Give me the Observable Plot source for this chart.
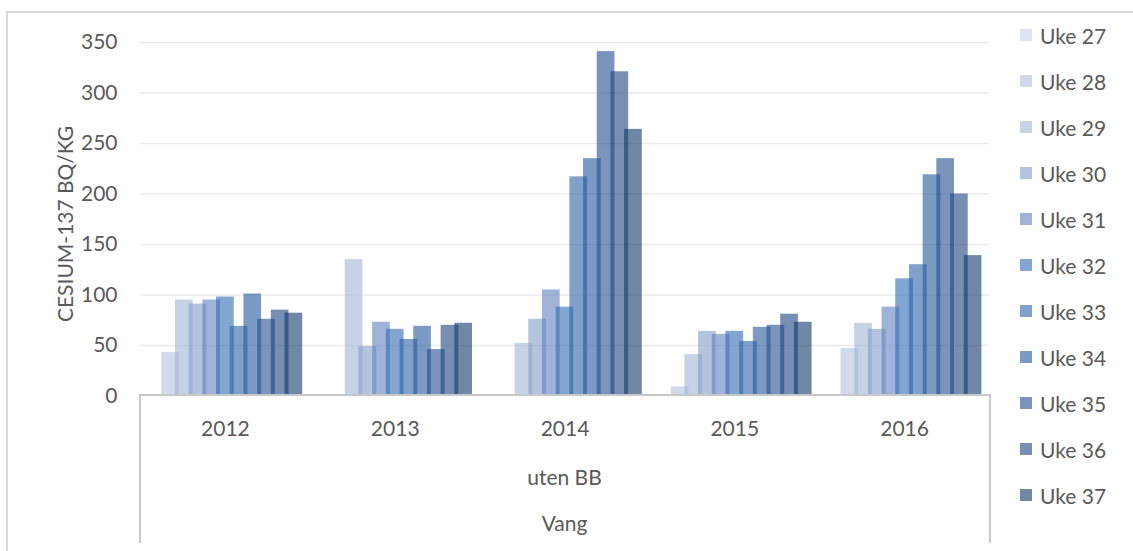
<!DOCTYPE html>
<html>
<head>
<meta charset="utf-8">
<script src="https://cdn.jsdelivr.net/npm/d3@7"></script>
<script src="https://cdn.jsdelivr.net/npm/@observablehq/plot@0.6"></script>
<style>
  html, body { margin: 0; padding: 0; background: #fff; }
  #wrap { position: relative; width: 1133px; height: 551px; overflow: hidden; font-family: Lato, "Open Sans", sans-serif; color: #595959; }
  #border { position: absolute; left: 6px; top: 11px; width: 1200px; height: 600px; border-left: 2px solid #d9d9d9; border-top: 2px solid #d9d9d9; }
  #box { position: absolute; left: 139px; top: 394px; width: 848px; height: 147px; border-left: 2px solid #c8c8c8; border-right: 2px solid #c8c8c8; border-top: 2px solid #c8c8c8; }
  #chart { position: absolute; left: 0; top: 0; }
  #legend { position: absolute; left: 1020px; top: 0; }
  .item { position: absolute; left: 0; white-space: nowrap; font-size: 21px; line-height: 21px; height: 21px; }
  .sw { position: absolute; left: 0; top: 4px; width: 12px; height: 12px; }
  .lab { position: absolute; left: 20px; top: 0; }
  #sub { position: absolute; left: 0; top: 0; }
</style>
</head>
<body>
<div id="wrap">
  <div id="border"></div>
  <div id="chart"></div>
  <div id="box"></div>
  <svg id="sub" width="1133" height="551"></svg>
  <div id="legend"></div>
</div>
<script>
// Categories
const years = ["2012", "2013", "2014", "2015", "2016"];
const weeks = ["Uke 27", "Uke 28", "Uke 29", "Uke 30", "Uke 31", "Uke 32", "Uke 33", "Uke 34", "Uke 35", "Uke 36", "Uke 37"];
const yTicks = [0, 50, 100, 150, 200, 250, 300, 350];
const groupLabel = "uten BB";
const siteLabel = "Vang";
const yLabel = "CESIUM-137 BQ/KG";

// Series values (Bq/kg) per week, Uke 27 .. Uke 37 (null = no value)
const v2012 = [null, 43, 95, 91, 95, 98, 69, 101, 76, 85, 82];
const v2013 = [null, null, 135, 49, 73, 66, 56, 69, 46, 70, 72];
const v2014 = [null, null, 52, 76, 105, 88, 217, 235, 341, 321, 264];
const v2015 = [null, 9, 41, 64, 61, 64, 54, 68, 70, 81, 73];
const v2016 = [null, 47, 72, 66, 88, 116, 130, 219, 235, 200, 139];
const seriesByYear = [v2012, v2013, v2014, v2015, v2016];

// Colours per week
const weekColors = ["#cad0e4", "#b6c0dc", "#a0b4d4", "#829dca", "#5f80be", "#2f69b4", "#2b62a7", "#25589d", "#214d8f", "#1c4480", "#113969"];
const barOpacity = 0.6;

const data = [];
years.forEach((yr, i) => {
  seriesByYear[i].forEach((v, j) => {
    if (v != null) data.push({year: yr, week: weeks[j], value: v});
  });
});

const plot = Plot.plot({
  width: 1133,
  height: 551,
  marginLeft: 140,
  marginRight: 144,
  marginTop: 42,
  marginBottom: 155.5,
  style: {fontFamily: "Lato, 'Open Sans', sans-serif", fontSize: "21px", color: "#595959", background: "transparent", overflow: "visible"},
  facet: {data, x: "year"},
  fx: {domain: years, padding: 0, round: false, label: null, tickSize: 0, tickPadding: 25},
  x: {domain: weeks, paddingInner: 0, paddingOuter: 0.7, round: false, axis: null},
  y: {domain: [0, 350], ticks: yTicks, tickSize: 0, tickPadding: 23, label: null},
  color: {domain: weeks, range: weekColors},
  marks: [
    Plot.gridY(yTicks.filter(d => d > 0), {stroke: "#ebebeb", strokeOpacity: 1, strokeWidth: 1.5}),
    Plot.barY(data, {x: "week", y: "value", fill: "week", fillOpacity: barOpacity, insetLeft: -2, insetRight: -2})
  ]
});
document.getElementById("chart").appendChild(plot);

// Axis title and lower category labels
const sub = d3.select("#sub");
const font = "Lato, 'Open Sans', sans-serif";
sub.append("text").attr("transform", "translate(72.5,224) rotate(-90)").attr("text-anchor", "middle")
  .attr("font-family", font).attr("font-size", 21).attr("fill", "#595959").text(yLabel);
const cx = 140 + (989 - 140) / 2;
sub.append("text").attr("x", cx).attr("y", 485).attr("text-anchor", "middle")
  .attr("font-family", font).attr("font-size", 21).attr("fill", "#595959").text(groupLabel);
sub.append("text").attr("x", cx).attr("y", 530.5).attr("text-anchor", "middle")
  .attr("font-family", font).attr("font-size", 21).attr("fill", "#595959").text(siteLabel);

// Legend
const legend = document.getElementById("legend");
weeks.forEach((w, i) => {
  const it = document.createElement("div");
  it.className = "item";
  it.style.top = (35 + i * 46 - 10.5) + "px";
  const sw = document.createElement("div");
  sw.className = "sw";
  sw.style.background = weekColors[i];
  sw.style.opacity = barOpacity;
  const lab = document.createElement("div");
  lab.className = "lab";
  lab.textContent = w;
  it.appendChild(sw);
  it.appendChild(lab);
  legend.appendChild(it);
});
</script>
</body>
</html>
